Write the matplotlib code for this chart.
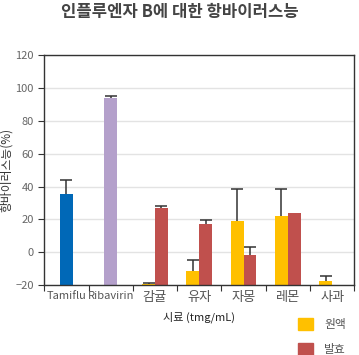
import numpy as np
import matplotlib
matplotlib.use("Agg")
import matplotlib.pyplot as plt
from matplotlib.patches import Patch

plt.rcParams['font.family'] = ['Noto Sans CJK KR', 'DejaVu Sans']

# 데이터
categories = ['Tamiflu', 'Ribavirin', '감귤', '유자', '자몽', '레몬', '사과']
control_vals = [35.3, 94.3]
control_errs = [8.9, 1.0]
control_colors = ['#0068B7', '#B4A0CB']
raw_vals = [-19.5, -11.6, 18.9, 21.9, -17.6]   # 원액
raw_errs = [1.0, 7.1, 19.8, 16.8, 3.4]
ferm_vals = [26.8, 17.0, -1.8, 23.7, -20.0]    # 발효
ferm_errs = [1.6, 2.9, 5.3, 0.0, 0.0]

fig = plt.figure(figsize=(3.59, 3.55), dpi=100)
ax = fig.add_axes([0.1234, 0.197, 0.8636, 0.6467])

w = 0.29
x = np.arange(len(categories))


def draw_bars(pos, vals, errs, color):
    pos = np.asarray(pos, dtype=float)
    vals = np.asarray(vals, dtype=float)
    errs = np.asarray(errs, dtype=float)
    ax.bar(pos, vals + 20, w, bottom=-20, color=color, zorder=2)
    m = errs > 0
    # 위쪽 방향 오차막대만
    ax.vlines(pos[m], vals[m], vals[m] + errs[m], color='#333333', linewidth=1.1, zorder=3)
    ax.plot(pos[m], vals[m] + errs[m], linestyle='none', marker='_', markersize=9,
            markeredgewidth=1.1, color='#333333', zorder=3)


# 대조군
for i in range(2):
    draw_bars([x[i]], [control_vals[i]], [control_errs[i]], control_colors[i])

# 시료
xs = x[2:]
draw_bars(xs - w / 2, raw_vals, raw_errs, '#FFC000')
draw_bars(xs + w / 2, ferm_vals, ferm_errs, '#C0504D')

ax.set_xlim(-0.5, len(categories) - 0.5)
ax.set_ylim(-20, 120)
ax.set_yticks(np.arange(-20, 121, 20))
ax.yaxis.grid(True, color='#E3E3E3', linewidth=1, zorder=0)
ax.set_axisbelow(True)

ax.set_xticks(np.arange(-0.5, len(categories), 1))
ax.set_xticklabels([])
ax.set_xticks(x, minor=True)
labels = ax.set_xticklabels(categories, minor=True, fontsize=8, color='#555555')
for lab in labels[2:]:
    lab.set_fontsize(9.5)
ax.tick_params(axis='x', which='minor', length=0, pad=4)
ax.tick_params(axis='x', which='major', length=4, color='#333333')
ax.tick_params(axis='y', labelsize=8, labelcolor='#666666', length=4, color='#333333')

for s in ax.spines.values():
    s.set_color('#333333')
    s.set_linewidth(1)

ax.set_ylabel('항바이러스능(%)', fontsize=8.5, color='#333333', labelpad=2)
ax.set_xlabel('시료 (tmg/mL)', fontsize=8, fontweight='medium', color='#222222', labelpad=6)

fig.text(0.5, 0.965, '인플루엔자 B에 대한 항바이러스능', ha='center', va='center',
         fontsize=12, fontweight='bold', color='#444444')

handles = [Patch(color='#FFC000', label='원액'), Patch(color='#C0504D', label='발효')]
fig.legend(handles=handles, loc='upper left', bbox_to_anchor=(0.815, 0.12),
           frameon=False, fontsize=8.5, handlelength=1.2, handleheight=1.2,
           labelspacing=1.0, handletextpad=1.0, borderpad=0, labelcolor='#555555')

fig.savefig('out.png', dpi=100)
